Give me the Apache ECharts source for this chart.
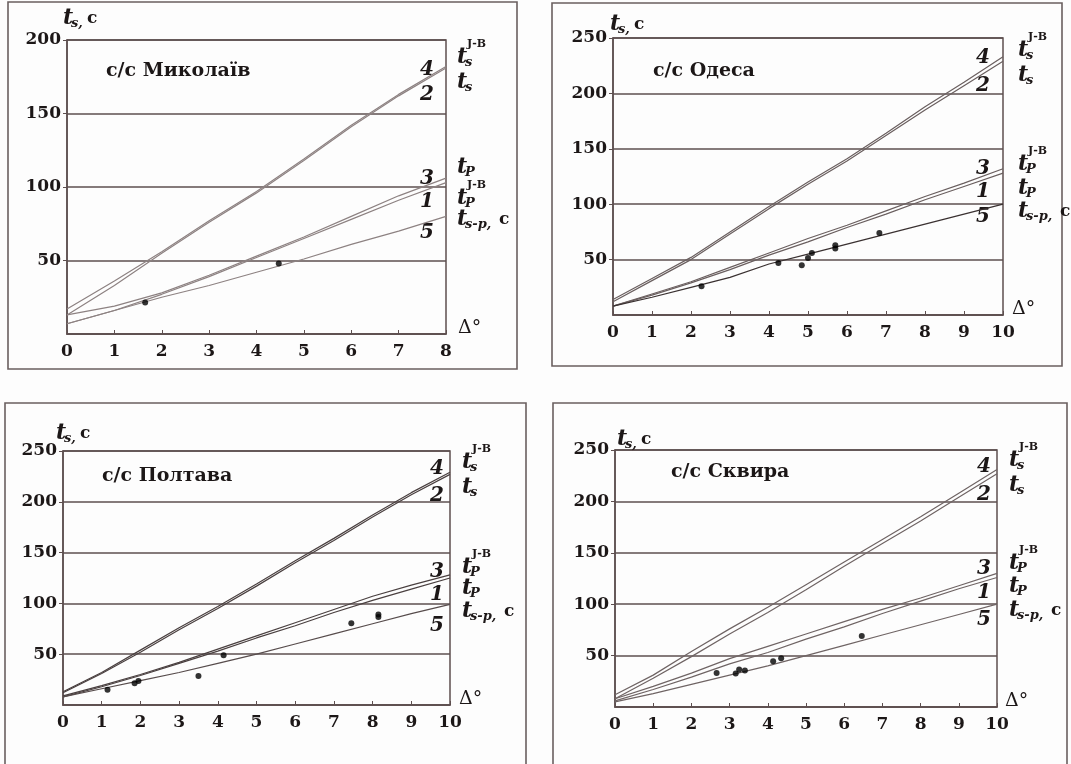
<!DOCTYPE html>
<html>
<head>
<meta charset="utf-8">
<script src="https://cdn.jsdelivr.net/npm/echarts@6/dist/echarts.min.js"></script>
<style>
  html, body { margin: 0; padding: 0; background: #fdfdfd; }
  #chart { width: 1071px; height: 764px; }
</style>
</head>
<body>
<div id="chart"></div>
<script>
// epicentral distance, degrees
var delta8 = [0, 1, 2, 3, 4, 5, 6, 7, 8];
var delta10 = [0, 1, 2, 3, 4, 5, 6, 7, 8, 9, 10];

// с/с Миколаїв  (1 - tP, 2 - ts, 3 - tP J-B, 4 - ts J-B, 5 - ts-p)
var mykTp   = [7, 16, 27, 39, 52, 65, 78, 91, 103];
var mykTs   = [13, 33, 55, 76, 96, 118, 141, 162, 181];
var mykTpJB = [13, 19, 28, 40, 53, 66, 80, 94, 106];
var mykTsJB = [17, 36, 56, 77, 97, 119, 142, 163, 182];
var mykTsp  = [7, 16, 25, 33, 42, 51, 61, 70, 80];
var mykObsD = [1.65, 4.47];
var mykObsT = [21.5, 48];

// с/с Одеса
var odeTp   = [8, 18, 29, 41, 54, 66, 79, 91, 104, 116, 128];
var odeTs   = [12, 31, 50, 73, 96, 118, 139, 162, 185, 207, 229];
var odeTpJB = [8, 19, 30, 43, 56, 69, 81, 94, 107, 119, 132];
var odeTsJB = [14, 33, 52, 75, 98, 120, 141, 164, 188, 210, 233];
var odeTsp  = [8, 16, 25, 34, 46, 55, 64, 73, 82, 91, 100];
var odeObsD = [2.27, 4.24, 4.84, 5.0, 5.1, 5.7, 5.7, 6.83];
var odeObsT = [26, 47, 45, 51.5, 56, 63, 60, 74];

// с/с Полтава
var polTp   = [8, 18, 29, 41, 53, 66, 78, 91, 103, 114, 125];
var polTs   = [12, 31, 52, 74, 95, 117, 140, 162, 185, 207, 227];
var polTpJB = [9, 19, 30, 42, 55, 68, 81, 94, 107, 118, 128];
var polTsJB = [13, 32, 54, 76, 97, 119, 142, 164, 187, 209, 229];
var polTsp  = [8, 16, 24, 32, 41, 50, 60, 70, 80, 90, 99];
var polObsD = [1.15, 1.85, 1.95, 3.5, 4.15, 7.45, 8.15, 8.15];
var polObsT = [15, 21.5, 23.5, 28.5, 49, 80.5, 86.5, 89];

// с/с Сквира
var skvTp   = [6, 17, 29, 42, 53, 66, 78, 91, 103, 115, 126];
var skvTs   = [8, 28, 49, 71, 92, 114, 137, 159, 181, 204, 227];
var skvTpJB = [8, 20, 33, 47, 59, 71, 83, 95, 106, 118, 130];
var skvTsJB = [12, 31, 54, 76, 97, 119, 141, 163, 185, 208, 231];
var skvTsp  = [5, 13, 22, 31, 40, 50, 60, 70, 80, 90, 100];
var skvObsD = [2.66, 3.16, 3.25, 3.4, 4.14, 4.35, 6.46];
var skvObsT = [33, 32.5, 36.5, 35.5, 44.5, 47.5, 69];

var panels = [
  { title: 'с/с Миколаїв', delta: delta8,  xMax: 8,  yMax: 200, tp: mykTp, ts: mykTs, tpJB: mykTpJB, tsJB: mykTsJB, tsp: mykTsp, obsD: mykObsD, obsT: mykObsT },
  { title: 'с/с Одеса',    delta: delta10, xMax: 10, yMax: 250, tp: odeTp, ts: odeTs, tpJB: odeTpJB, tsJB: odeTsJB, tsp: odeTsp, obsD: odeObsD, obsT: odeObsT },
  { title: 'с/с Полтава',  delta: delta10, xMax: 10, yMax: 250, tp: polTp, ts: polTs, tpJB: polTpJB, tsJB: polTsJB, tsp: polTsp, obsD: polObsD, obsT: polObsT },
  { title: 'с/с Сквира',   delta: delta10, xMax: 10, yMax: 250, tp: skvTp, ts: skvTs, tpJB: skvTpJB, tsJB: skvTsJB, tsp: skvTsp, obsD: skvObsD, obsT: skvObsT }
];

// positions and styles of each panel
var layout = [
  { left: 67,  top: 40,  width: 379, height: 294, box: [8, 2, 509, 367],
    titleX: 106, titleY: 62, yName: [63, 18], nameGap: 12, line: '#8d8282', line5: '#8d8282',
    tDx: 11, rows: [57, 82, 167, 198, 219], order: ['tsJB', 'ts', 'tp', 'tpJB', 'tsp'],
    numDx: -19, numDy: { tp: 19, ts: 27, tpJB: 1, tsJB: 3, tsp: 16 } },
  { left: 613, top: 38,  width: 390, height: 277, box: [552, 3, 510, 363],
    titleX: 653, titleY: 62, yName: [610, 24], nameGap: 9, line: '#6a5f5f', line5: '#3a3131',
    tDx: 15, rows: [50, 75, 164, 188, 211], order: ['tsJB', 'ts', 'tpJB', 'tp', 'tsp'],
    numDx: -20, numDy: { tp: 19, ts: 25, tpJB: 0, tsJB: 1, tsp: 13 } },
  { left: 63,  top: 451, width: 387, height: 254, box: [5, 403, 521, 380],
    titleX: 102, titleY: 467, yName: [56, 433], nameGap: 9, line: '#4a4040', line5: '#574c4c',
    tDx: 12, rows: [462, 487, 567, 588, 611], order: ['tsJB', 'ts', 'tpJB', 'tp', 'tsp'],
    numDx: -13, numDy: { tp: 17, ts: 21, tpJB: -3, tsJB: -4, tsp: 21 } },
  { left: 615, top: 450, width: 382, height: 257, box: [553, 403, 514, 380],
    titleX: 671, titleY: 463, yName: [617, 439], nameGap: 8, line: '#6f6464', line5: '#6f6464',
    tDx: 12, rows: [460, 485, 563, 586, 610], order: ['tsJB', 'ts', 'tpJB', 'tp', 'tsp'],
    numDx: -13, numDy: { tp: 15, ts: 21, tpJB: -5, tsJB: -3, tsp: 16 } }
];

var INK = '#1c1717';
var GRID = '#5d4f4f';
var FONT = '"DejaVu Serif", "Liberation Serif", serif';
var NUMS = { tp: '1', ts: '2', tpJB: '3', tsJB: '4', tsp: '5' };
var LABELS = {
  tsJB: { sub: 's', sup: 'J-B' },
  ts:   { sub: 's' },
  tpJB: { sub: 'P', sup: 'J-B' },
  tp:   { sub: 'P' },
  tsp:  { sub: 's-p,', tail: 'с' }
};

function pairs(xs, ys) {
  return xs.map(function (x, k) { return [x, ys[k]]; });
}

var chart = echarts.init(document.getElementById('chart'));

var grids = [], xAxes = [], yAxes = [], titles = [], series = [];
panels.forEach(function (p, i) {
  var L = layout[i];
  grids.push({ left: L.left, top: L.top, width: L.width, height: L.height,
    show: true, borderColor: GRID, borderWidth: 1.5, backgroundColor: 'transparent' });
  xAxes.push({
    gridIndex: i, type: 'value', min: 0, max: p.xMax, interval: 1,
    name: 'Δ°', nameLocation: 'end', nameGap: L.nameGap,
    nameTextStyle: { fontFamily: FONT, fontSize: 19, color: INK, verticalAlign: 'bottom', align: 'left', lineHeight: 12 },
    axisLine: { lineStyle: { color: GRID, width: 1.5 } },
    axisTick: { inside: true, length: 4, lineStyle: { color: GRID } },
    axisLabel: { margin: 9, fontFamily: FONT, fontWeight: 'bold', fontSize: 17, color: INK },
    splitLine: { show: false }
  });
  yAxes.push({
    gridIndex: i, type: 'value', min: 0, max: p.yMax, interval: 50,
    axisLine: { show: true, lineStyle: { color: GRID, width: 1.5 } },
    axisTick: { show: true, length: 4, lineStyle: { color: GRID } },
    axisLabel: { margin: 6, showMinLabel: false, fontFamily: FONT, fontWeight: 'bold', fontSize: 17, color: INK },
    splitLine: { show: true, lineStyle: { color: GRID, width: 1.5 } }
  });
  titles.push({ text: p.title, left: L.titleX, top: L.titleY, padding: 0,
    textStyle: { fontFamily: FONT, fontWeight: 'bold', fontSize: 19, color: INK } });

  ['tp', 'ts', 'tpJB', 'tsJB', 'tsp'].forEach(function (key) {
    series.push({
      type: 'line', name: key, xAxisIndex: i, yAxisIndex: i,
      data: pairs(p.delta, p[key]), showSymbol: false, silent: true,
      lineStyle: { color: key === 'tsp' ? L.line5 : L.line, width: 1.2 }
    });
  });
  series.push({
    type: 'scatter', xAxisIndex: i, yAxisIndex: i, data: pairs(p.obsD, p.obsT),
    symbolSize: 6, itemStyle: { color: '#000' }, silent: true, z: 5
  });
});

chart.setOption({
  backgroundColor: '#fdfdfd',
  animation: false,
  title: titles,
  grid: grids,
  xAxis: xAxes,
  yAxis: yAxes,
  series: series
});

function txt(x, y, text, font) {
  return { type: 'text', x: x, y: y, silent: true,
    style: { text: text, font: font, fill: INK, align: 'left', verticalAlign: 'middle' } };
}

// italic t with subscript / superscript
function tLabel(x, y, sub, sup, tail, tailDx) {
  var els = [txt(x, y, 't', 'italic bold 22px ' + FONT),
             txt(x + 8, y + 6, sub, 'italic bold 13px ' + FONT)];
  if (sup) els.push(txt(x + 10, y - 13, sup, 'bold 11px ' + FONT));
  if (tail) els.push(txt(x + tailDx, y + 1, tail, 'bold 17px ' + FONT));
  return els;
}

var g = [];
panels.forEach(function (p, i) {
  var L = layout[i];
  g.push({ type: 'rect', silent: true, z: 0,
    shape: { x: L.box[0], y: L.box[1], width: L.box[2], height: L.box[3] },
    style: { fill: 'none', stroke: '#6a5f5f', lineWidth: 1.6 } });

  g = g.concat(tLabel(L.yName[0], L.yName[1], 's,', null, 'с', 24));

  var right = L.left + L.width;
  L.order.forEach(function (key, k) {
    var lb = LABELS[key];
    g = g.concat(tLabel(right + L.tDx, L.rows[k], lb.sub, lb.sup, lb.tail, 42));
  });

  ['tp', 'ts', 'tpJB', 'tsJB', 'tsp'].forEach(function (key) {
    var arr = p[key];
    var pt = chart.convertToPixel({ gridIndex: i }, [p.xMax, arr[arr.length - 1]]);
    g.push({ type: 'text', silent: true, x: pt[0] + L.numDx, y: pt[1] + L.numDy[key],
      style: { text: NUMS[key], font: 'italic bold 20px ' + FONT, fill: INK, align: 'center', verticalAlign: 'middle' } });
  });
});
chart.setOption({ graphic: g });

window.addEventListener('resize', function () { chart.resize(); });
</script>
</body>
</html>
